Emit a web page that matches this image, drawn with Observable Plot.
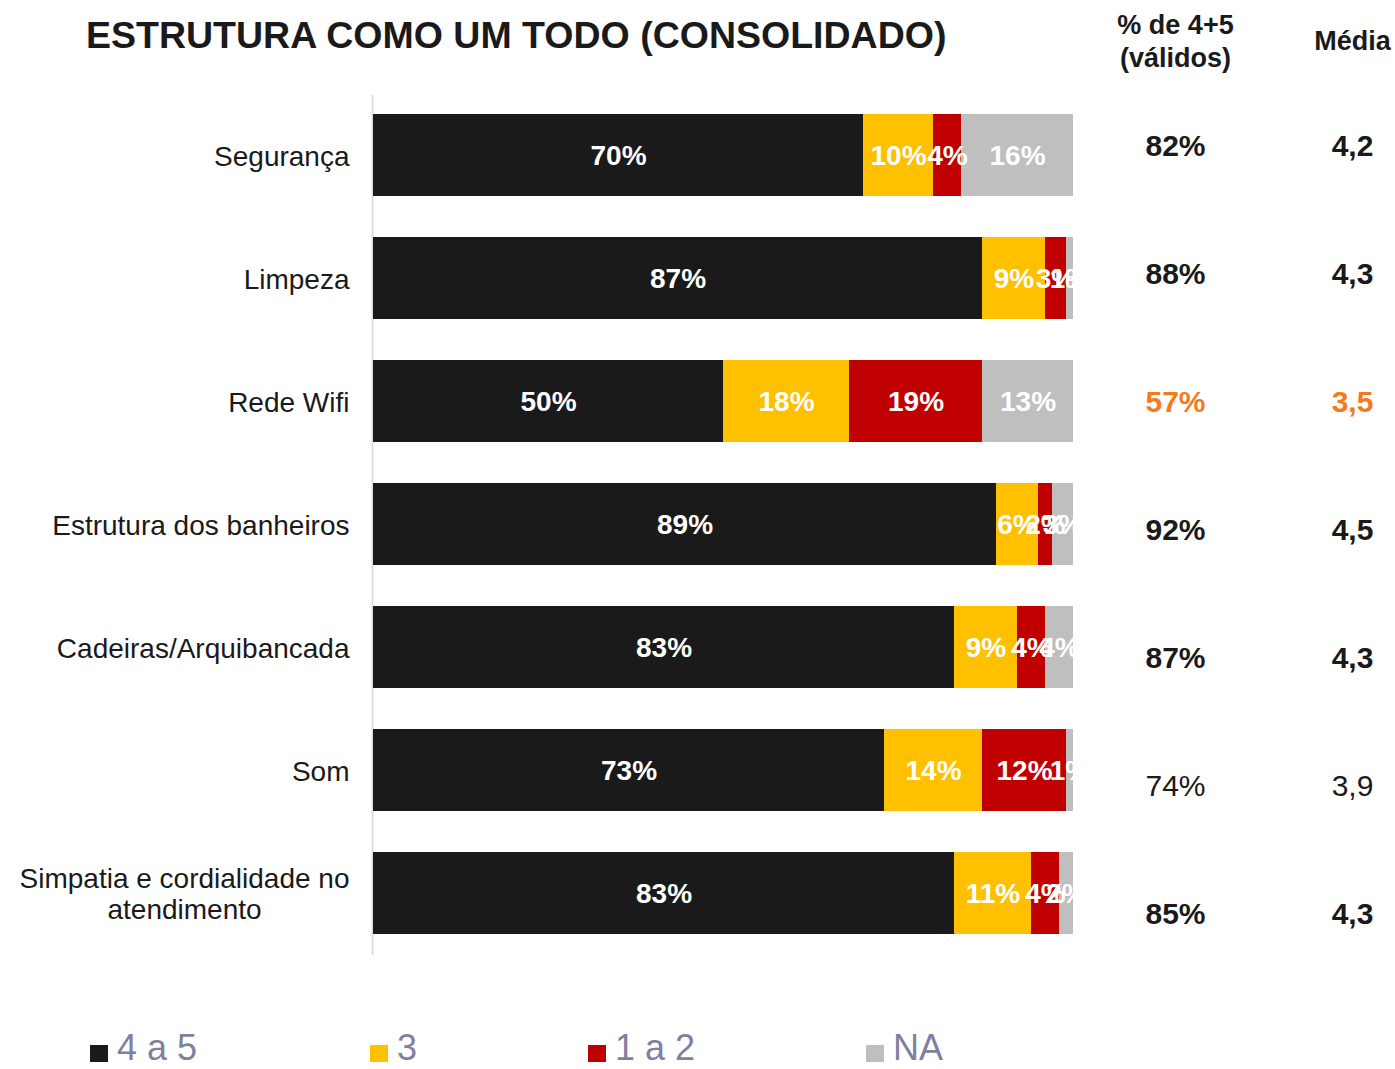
<!DOCTYPE html>
<html>
<head>
<meta charset="utf-8">
<script src="https://cdn.jsdelivr.net/npm/d3@7"></script>
<script src="https://cdn.jsdelivr.net/npm/@observablehq/plot@0.6"></script>
<style>
  body { margin: 0; background: #fff; font-family: "Liberation Sans", Arial, sans-serif; }
  #wrap { position: relative; width: 1395px; height: 1069px; overflow: hidden; background: #fff; }
  #wrap svg { position: absolute; left: 0; top: 0; }
  .title { position: absolute; left: 86px; top: 17px; font-size: 37.5px; font-weight: bold; color: #1a1a1a; white-space: nowrap; line-height: 1; z-index: 3; }
  .legend { position: absolute; left: 0; top: 1026px; height: 42px; width: 1395px; z-index: 3; }
  .legend .item { position: absolute; top: 0; height: 42px; display: flex; align-items: center; white-space: nowrap; }
  .legend .sw { width: 18px; height: 17px; margin-right: 9px; margin-top: 12px; }
  .legend .lb { font-size: 36px; color: #7f7f9f; line-height: 42px; padding-top: 2px; }
</style>
</head>
<body>
<div id="wrap">
  <div class="title">ESTRUTURA COMO UM TODO (CONSOLIDADO)</div>
  <div class="legend" id="legend"></div>
</div>
<script>
// ---- data ----
const categories = [
  "Segurança",
  "Limpeza",
  "Rede Wifi",
  "Estrutura dos banheiros",
  "Cadeiras/Arquibancada",
  "Som",
  "Simpatia e cordialidade no\natendimento"
];
const seriesNames = ["4 a 5", "3", "1 a 2", "NA"];
const v45 = [70, 87, 50, 89, 83, 73, 83];
const v3  = [10, 9, 18, 6, 9, 14, 11];
const v12 = [4, 3, 19, 2, 4, 12, 4];
const vNA = [16, 1, 13, 3, 4, 1, 2];
const pct45 = [82, 88, 57, 92, 87, 74, 85];
const media = [4.2, 4.3, 3.5, 4.5, 4.3, 3.9, 4.3];
const columnKeys = ["pct", "media"];
const columnHeaders = ["% de 4+5\n(válidos)", "Média"];

// ---- styling (kept apart from the data) ----
const seriesColors = ["#1a1a1a", "#ffc000", "#c00000", "#bfbfbf"];
const alertRows = new Set(["Rede Wifi"]);
const plainRows = new Set(["Som"]);
const FONT = "'Liberation Sans', Arial, sans-serif";

const seriesValues = [v45, v3, v12, vNA];
const long = [];
categories.forEach((c, i) => {
  seriesNames.forEach((s, j) => long.push({cat: c, series: s, value: seriesValues[j][i]}));
});

const rightData = [];
categories.forEach((c, i) => {
  rightData.push({cat: c, col: "pct", text: pct45[i] + "%"});
  rightData.push({cat: c, col: "media", text: media[i].toFixed(1).replace(".", ",")});
});
const headerData = columnKeys.map((k, i) => ({col: k, text: columnHeaders[i]}));

const wrap = document.getElementById("wrap");

// ---- main stacked bar chart ----
const main = Plot.plot({
  width: 1395,
  height: 1069,
  marginLeft: 373,
  marginRight: 322,
  marginTop: 95,
  marginBottom: 114,
  style: {fontFamily: FONT, background: "#fff"},
  x: {domain: [0, 100], axis: null},
  y: {domain: categories, range: [72, 976], padding: 0.335, axis: null},
  color: {domain: seriesNames, range: seriesColors},
  marks: [
    Plot.ruleX([0], {stroke: "#dcdce3", strokeWidth: 2, dx: -1}),
    Plot.barX(long, Plot.stackX({x: "value", y: "cat", fill: "series", z: "series", order: seriesNames})),
    Plot.text(long, Plot.stackX({
      x: "value", y: "cat", z: "series", order: seriesNames,
      text: d => d.value + "%",
      fill: "#fff", fontSize: 28, fontWeight: "bold", dy: 1
    })),
    Plot.text(categories, {
      y: d => d, text: d => d, frameAnchor: "left", textAnchor: "end",
      dx: -24, fontSize: 28, fill: "#1a1a1a", lineHeight: 1.12
    })
  ]
});
wrap.insertBefore(main, wrap.firstChild);

// center multi-line category labels (block right-aligned, lines centered)
main.querySelectorAll("text").forEach(t => {
  if (t.querySelectorAll("tspan").length > 1) {
    const w = t.getBBox().width;
    t.setAttribute("text-anchor", "middle");
    const tr = t.getAttribute("transform") || "";
    t.setAttribute("transform", tr + ` translate(${-w / 2},0)`);
  }
});

// ---- right-hand columns ----
const right = Plot.plot({
  width: 1395,
  height: 1069,
  marginTop: 0, marginBottom: 0, marginLeft: 0, marginRight: 0,
  style: {fontFamily: FONT, background: "transparent"},
  x: {type: "point", domain: columnKeys, range: [1175, 1352], padding: 0, axis: null},
  y: {type: "point", domain: categories, range: [145, 915], padding: 0, axis: null},
  marks: [
    Plot.text(rightData.filter(d => !plainRows.has(d.cat)), {
      x: "col", y: "cat", text: "text", fontSize: 30, fontWeight: "bold",
      fill: d => alertRows.has(d.cat) ? "#f47a20" : "#1a1a1a"
    }),
    Plot.text(rightData.filter(d => plainRows.has(d.cat)), {
      x: "col", y: "cat", text: "text", fontSize: 30, fill: "#1a1a1a"
    }),
    Plot.text(headerData, {
      x: "col", text: "text", frameAnchor: "top", dy: 39, lineAnchor: "middle",
      fontSize: 27, fontWeight: "bold", fill: "#1a1a1a", lineHeight: 1.22
    })
  ]
});
right.style.zIndex = 2;
wrap.insertBefore(right, main.nextSibling);

// ---- legend ----
const legendX = [90, 370, 588, 866];
const legend = document.getElementById("legend");
seriesNames.forEach((s, i) => {
  const item = document.createElement("div");
  item.className = "item";
  item.style.left = legendX[i] + "px";
  item.innerHTML = `<div class="sw" style="background:${seriesColors[i]}"></div><div class="lb">${s}</div>`;
  legend.appendChild(item);
});
</script>
</body>
</html>
